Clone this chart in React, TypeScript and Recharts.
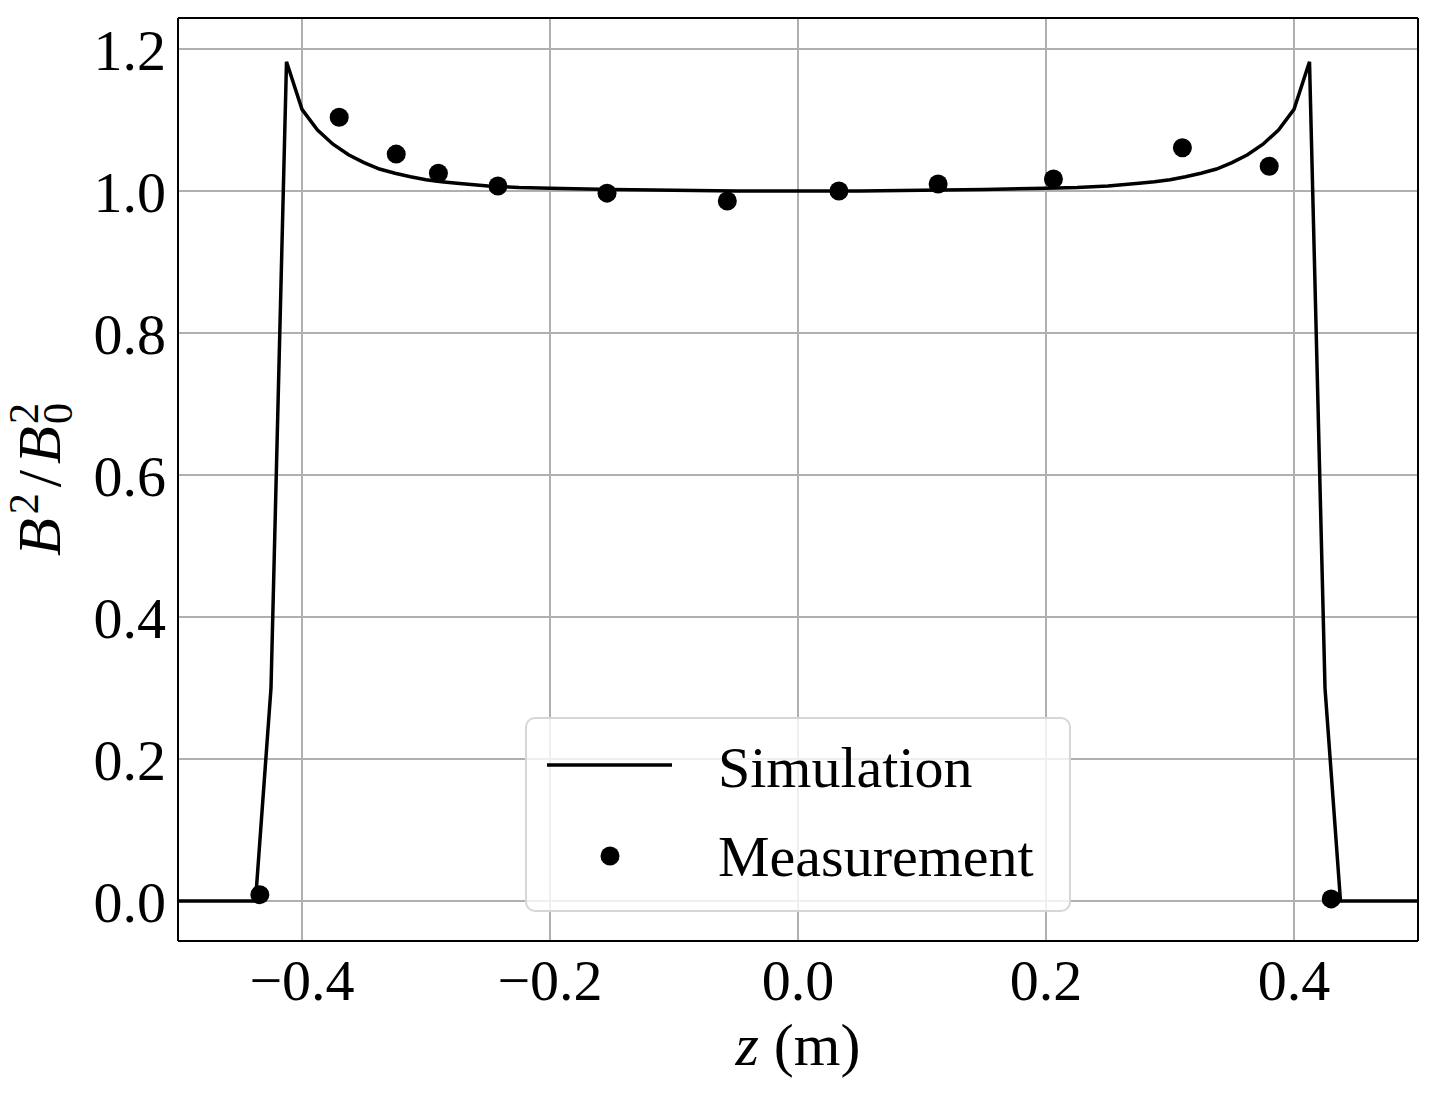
import React from 'react';
import { ComposedChart, Line, Scatter, XAxis, YAxis, CartesianGrid } from 'recharts';

// simulated field profile, z in metres
const simZ = [
  -0.5, -0.4375, -0.425, -0.4125, -0.4, -0.3875, -0.375, -0.3625, -0.35, -0.3375,
  -0.325, -0.3125, -0.3, -0.2875, -0.275, -0.25, -0.225, -0.2, -0.15, -0.1, -0.05,
  0, 0.05, 0.1, 0.15, 0.2, 0.225, 0.25, 0.275, 0.2875, 0.3, 0.3125, 0.325, 0.3375,
  0.35, 0.3625, 0.375, 0.3875, 0.4, 0.4125, 0.425, 0.4375, 0.5,
];
const simB2 = [
  0, 0, 0.3, 1.182, 1.115, 1.086, 1.066, 1.051, 1.04, 1.031,
  1.025, 1.02, 1.016, 1.013, 1.011, 1.007, 1.005, 1.004, 1.002, 1.001, 1.0,
  1.0, 1.0, 1.001, 1.002, 1.004, 1.005, 1.007, 1.011, 1.013, 1.016, 1.02, 1.025, 1.031,
  1.04, 1.051, 1.066, 1.086, 1.115, 1.182, 0.3, 0, 0,
];

// measured points
const measZ = [-0.434, -0.37, -0.324, -0.29, -0.242, -0.154, -0.057, 0.033, 0.113, 0.206, 0.31, 0.38, 0.43];
const measB2 = [0.009, 1.104, 1.052, 1.025, 1.007, 0.997, 0.986, 1.0, 1.01, 1.017, 1.061, 1.035, 0.003];

const xTicks = [-0.4, -0.2, 0, 0.2, 0.4];
const yTicks = [0, 0.2, 0.4, 0.6, 0.8, 1.0, 1.2];

const simData = simZ.map((z, i) => ({ z, b2: simB2[i] }));
const measData = measZ.map((z, i) => ({ z, b2: measB2[i] }));

const FONT = '"Liberation Serif", "DejaVu Serif", serif';
const fmt = (v: number) => v.toFixed(1).replace('-', '\u2212');
const tickStyle = { fontSize: 58, fill: '#000', fontFamily: FONT };
const spine = { stroke: '#000', strokeWidth: 2 };
const inTick = { stroke: '#000', strokeWidth: 2 };

const Dot = (props: any) => <circle cx={props.cx} cy={props.cy} r={9.5} fill="#000" />;

const YLabel = (props: any) => {
  const vb = props.viewBox;
  const cx = vb.x + 60;
  const cy = vb.y + vb.height / 2;
  return (
    <text
      x={cx}
      y={cy}
      transform={`rotate(-90, ${cx}, ${cy})`}
      textAnchor="middle"
      fontFamily={FONT}
      fontSize={62}
      fill="#000"
    >
      <tspan fontStyle="italic">B</tspan>
      <tspan fontSize={42} dx={4} dy={-22}>2</tspan>
      <tspan dx={6} dy={22}>/</tspan>
      <tspan fontStyle="italic" dx={6}>B</tspan>
      <tspan fontSize={42} dx={2} dy={12}>0</tspan>
      <tspan fontSize={42} dx={-21} dy={-34}>2</tspan>
    </text>
  );
};

const XLabel = (props: any) => {
  const vb = props.viewBox;
  return (
    <text x={vb.x + vb.width / 2} y={vb.y + 124} textAnchor="middle" fontFamily={FONT} fontSize={60} fill="#000">
      <tspan fontStyle="italic">z</tspan>
      <tspan> (m)</tspan>
    </text>
  );
};

export default function App() {
  return (
    <div style={{ position: 'absolute', left: 0, top: 0, width: 1438, height: 1099, background: '#fff' }}>
      <ComposedChart width={1438} height={1099} margin={{ top: 18, right: 20, bottom: 0, left: 0 }}>
        <CartesianGrid stroke="#b0b0b0" strokeWidth={2} />
        <XAxis
          dataKey="z"
          type="number"
          domain={[-0.5, 0.5]}
          allowDataOverflow
          ticks={xTicks}
          tickFormatter={fmt}
          tick={tickStyle}
          tickLine={false}
          tickSize={0}
          tickMargin={18}
          axisLine={spine}
          height={158}
          label={{ content: XLabel }}
        />
        <XAxis xAxisId="bm" type="number" domain={[-0.5, 0.5]} allowDataOverflow ticks={xTicks}
          orientation="bottom" mirror tick={false} tickLine={inTick} tickSize={10} axisLine={false} />
        <XAxis xAxisId="top" type="number" domain={[-0.5, 0.5]} allowDataOverflow ticks={xTicks}
          orientation="top" mirror tick={false} tickLine={inTick} tickSize={10} axisLine={spine} />
        <YAxis
          dataKey="b2"
          type="number"
          domain={[-0.0563, 1.2437]}
          allowDataOverflow
          ticks={yTicks}
          tickFormatter={fmt}
          tick={tickStyle}
          tickLine={false}
          tickSize={0}
          tickMargin={12}
          axisLine={spine}
          width={178}
          label={{ content: YLabel }}
        />
        <YAxis yAxisId="lm" type="number" domain={[-0.0563, 1.2437]} allowDataOverflow ticks={yTicks}
          orientation="left" mirror tick={false} tickLine={inTick} tickSize={10} axisLine={false} />
        <YAxis yAxisId="right" type="number" domain={[-0.0563, 1.2437]} allowDataOverflow ticks={yTicks}
          orientation="right" mirror tick={false} tickLine={inTick} tickSize={10} axisLine={spine} />
        <Line
          data={simData}
          dataKey="b2"
          type="linear"
          stroke="#000"
          strokeWidth={3.5}
          dot={false}
          isAnimationActive={false}
        />
        <Scatter data={measData} dataKey="b2" fill="#000" shape={Dot} isAnimationActive={false} />
      </ComposedChart>

      <div
        style={{
          position: 'absolute',
          left: 525,
          top: 717,
          width: 546,
          height: 195,
          boxSizing: 'border-box',
          border: '2px solid #d6d6d6',
          borderRadius: 10,
          background: 'rgba(255,255,255,0.8)',
        }}
      >
        <svg width={542} height={191} style={{ position: 'absolute', left: 0, top: 0 }}>
          <line x1={20} y1={46} x2={145} y2={46} stroke="#000" strokeWidth={3.5} />
          <circle cx={83} cy={137} r={9.5} fill="#000" />
          <text x={191} y={68} fontFamily={FONT} fontSize={58} fill="#000">Simulation</text>
          <text x={191} y={157} fontFamily={FONT} fontSize={58} fill="#000">Measurement</text>
        </svg>
      </div>
    </div>
  );
}
